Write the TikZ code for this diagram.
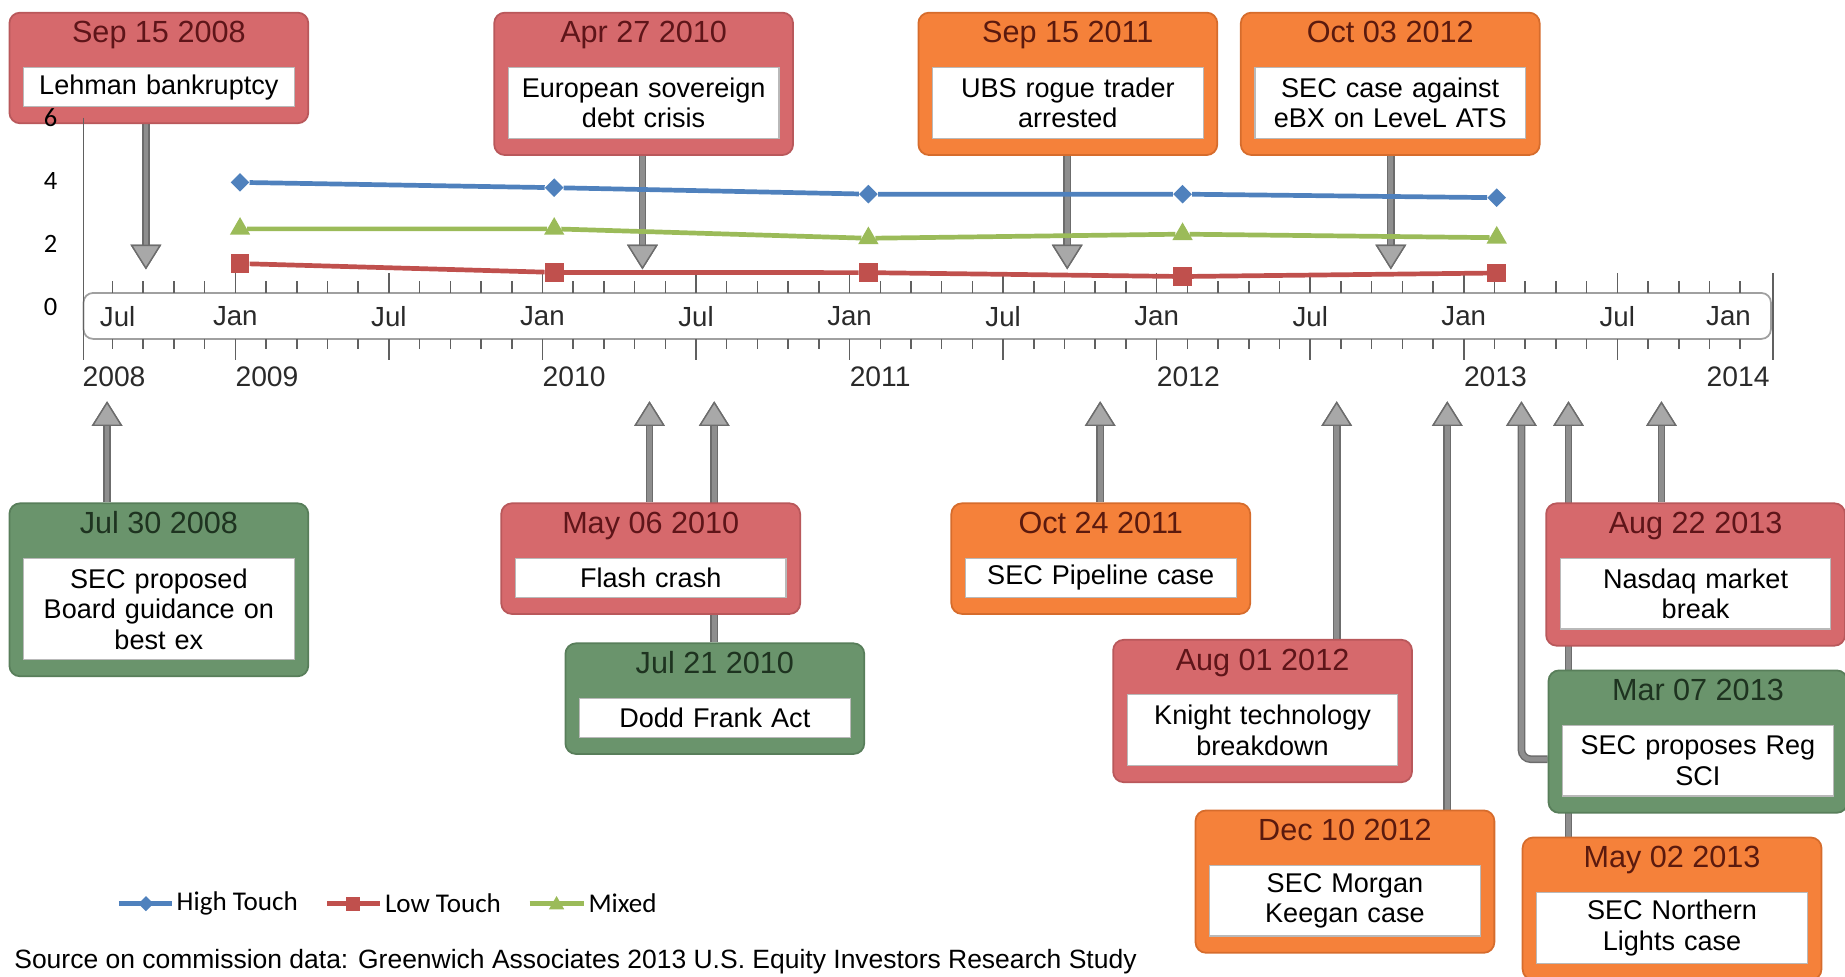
\documentclass[tikz,border=0pt]{standalone}
\usepackage{fontspec}
\setmainfont{Liberation Sans}
\newfontfamily\calibri{Carlito}
\usetikzlibrary{arrows.meta,shapes.geometric}
\definecolor{evred}{HTML}{D6696C}
\definecolor{evredline}{HTML}{B9585B}
\definecolor{evreddate}{HTML}{5E1519}
\definecolor{evorange}{HTML}{F5813A}
\definecolor{evorangeline}{HTML}{D66C2C}
\definecolor{evorangedate}{HTML}{5B1A0E}
\definecolor{evgreen}{HTML}{6A946C}
\definecolor{evgreenline}{HTML}{587E5A}
\definecolor{evgreendate}{HTML}{1E3320}
\definecolor{hiblue}{HTML}{4F81BD}
\definecolor{lored}{HTML}{C0504D}
\definecolor{mixgreen}{HTML}{9BBB59}
\definecolor{stemgray}{HTML}{8E8E8E}
\definecolor{stemdark}{HTML}{6C6C6C}
\definecolor{headgray}{HTML}{A8A8A8}
\definecolor{bandgray}{HTML}{A0A0A0}
\definecolor{labelgray}{HTML}{2A2A2A}
\pgfdeclarelayer{bg}
\pgfsetlayers{bg,main}
% name, colour, centre x, top y, height of the white box, date, text
\newcommand{\eventbox}[7]{%
  \node[evbox=#2, minimum height=#5pt+61pt, anchor=north] (#1) at (#3,#4) {};
  \node[evdate=#2, anchor=base] (#1date) at ([yshift=-26.5pt]#1.north) {#6};
  \node[evtext, minimum height=#5pt, anchor=north] (#1txt) at ([yshift=-47pt]#1.north) {#7};
}

\begin{document}
\begin{tikzpicture}[x=1pt,y=-1pt]
\tikzset{evbox/.style={draw=#1line, fill=#1, rounded corners=9pt, line width=1.5pt,
    minimum width=254pt, inner sep=0pt}}
\tikzset{evdate/.style={text=#1date, inner sep=0pt, font=\fontsize{26}{30}\selectfont}}
\tikzset{evtext/.style={draw=gray!55, fill=white, line width=1pt, inner sep=0pt,
    text width=230pt, align=center, font=\fontsize{23}{26}\selectfont}}
\tikzset{evarrow/.style={draw=stemgray, line width=4pt,
    preaction={draw=stemdark, line width=6.5pt},
    -{Triangle[width=26pt, length=21pt, line width=1.2pt, color=stemdark, fill=headgray]}}}
\tikzset{band/.style={draw=bandgray, line width=1.5pt, fill=white, rounded corners=8pt}}
\tikzset{tick/.style={draw=gray!75!black, line width=1.3pt}}
\tikzset{monthlabel/.style={text=labelgray, inner sep=0pt, font=\fontsize{23.5}{26}\selectfont}}
\tikzset{yearlabel/.style={text=labelgray, inner sep=0pt, font=\fontsize{24}{26}\selectfont}}
\tikzset{axislabel/.style={inner sep=0pt, font=\calibri\fontsize{22.5}{26}\selectfont}}
\tikzset{hiline/.style={draw=hiblue, line width=4pt}}
\tikzset{loline/.style={draw=lored, line width=4pt}}
\tikzset{mixline/.style={draw=mixgreen, line width=4pt}}
\tikzset{himark/.style={diamond, fill=hiblue, minimum size=16pt, inner sep=0pt}}
\tikzset{lomark/.style={rectangle, fill=lored, minimum size=16pt, inner sep=0pt}}
\tikzset{mixmark/.style={regular polygon, regular polygon sides=3, fill=mixgreen,
    minimum size=20pt, inner sep=0pt}}
\tikzset{legtext/.style={anchor=west, inner sep=0pt, font=\calibri\fontsize{23}{26}\selectfont}}
\clip (0,0) rectangle (1568,830);

\eventbox{lehman}{evred}{135}{10}{33}{Sep 15 2008}{Lehman bankruptcy}
\eventbox{eurodebt}{evred}{547}{10}{60}{Apr 27 2010}{European sovereign\\debt crisis}
\eventbox{ubs}{evorange}{907.5}{10}{60}{Sep 15 2011}{UBS rogue trader\\arrested}
\eventbox{ebx}{evorange}{1181.5}{10}{60}{Oct 03 2012}{SEC case against\\eBX on LeveL ATS}
\eventbox{bestex}{evgreen}{135}{427}{86}{Jul 30 2008}{SEC proposed\\Board guidance on\\best ex}
\eventbox{flash}{evred}{553}{427}{33}{May 06 2010}{Flash crash}
\eventbox{doddfrank}{evgreen}{607.5}{546}{33}{Jul 21 2010}{Dodd Frank Act}
\eventbox{pipeline}{evorange}{935.5}{427}{33}{Oct 24 2011}{SEC Pipeline case}
\eventbox{knight}{evred}{1073}{543}{60}{Aug 01 2012}{Knight technology\\breakdown}
\eventbox{morgan}{evorange}{1143}{688}{60}{Dec 10 2012}{SEC Morgan\\Keegan case}
\eventbox{nasdaq}{evred}{1441}{427}{60}{Aug 22 2013}{Nasdaq market\\break}
\eventbox{regsci}{evgreen}{1443}{569}{60}{Mar 07 2013}{SEC proposes Reg\\SCI}
\eventbox{northern}{evorange}{1421}{711}{60}{May 02 2013}{SEC Northern\\Lights case}

\coordinate (d1) at (124,229);
\coordinate (d2) at (546,229);
\coordinate (d3) at (907,229);
\coordinate (d4) at (1182,229);
\coordinate (u1) at (91,341);
\coordinate (u2) at (552,341);
\coordinate (u3) at (607,341);
\coordinate (u4) at (935,341);
\coordinate (u5) at (1136,341);
\coordinate (u6) at (1230,341);
\coordinate (u7) at (1293,341);
\coordinate (u8) at (1333,341);
\coordinate (u9) at (1412,341);
\begin{pgfonlayer}{bg}
\draw[evarrow] (lehman.south -| d1) -- (d1);
\draw[evarrow] (eurodebt.south -| d2) -- (d2);
\draw[evarrow] (ubs.south -| d3) -- (d3);
\draw[evarrow] (ebx.south -| d4) -- (d4);
\draw[evarrow] (bestex.north -| u1) -- (u1);
\draw[evarrow] (flash.north -| u2) -- (u2);
\draw[evarrow] (doddfrank.north -| u3) -- (u3);
\draw[evarrow] (pipeline.north -| u4) -- (u4);
\draw[evarrow] (knight.north -| u5) -- (u5);
\draw[evarrow] (morgan.north -| u6) -- (u6);
\draw[evarrow, rounded corners=8pt] ([yshift=-15pt]regsci.west) -| (u7);
\draw[evarrow] (northern.north -| u8) -- (u8);
\draw[evarrow] (nasdaq.north -| u9) -- (u9);
\end{pgfonlayer}

\draw[band] (71,249) rectangle (1505,288);
\foreach \k in {1,...,54}{
  \pgfmathtruncatemacro\r{mod(\k,5)}
  \ifnum\r=0 \def\up{232}\def\dn{306}\else \def\up{239}\def\dn{297}\fi
  \draw[tick] (69.5+26.1*\k,\up) -- (69.5+26.1*\k,249);
  \draw[tick] (69.5+26.1*\k,288) -- (69.5+26.1*\k,\dn);
}
\draw[tick] (71,100) -- (71,306);
\draw[tick] (1507,232) -- (1507,306);
\node[monthlabel] (m0) at (100,269) {Jul};
\foreach \k/\m [count=\i] in {5/Jan,10/Jul,15/Jan,20/Jul,25/Jan,30/Jul,35/Jan,40/Jul,45/Jan,50/Jul}
  \node[monthlabel] (m\i) at (69.5+26.1*\k,269) {\m};
\node[monthlabel] (m11) at (1469,269) {Jan};
\node[yearlabel, anchor=west] (y2008) at (70,320) {2008};
\foreach \yr [count=\i] in {2009,...,2013}
  \node[yearlabel, anchor=west] (y\yr) at (200+261*\i-261,320) {\yr};
\node[yearlabel, anchor=east] (y2014) at (1504,320) {2014};
\foreach \v/\yy in {0/261,2/207,4/154,6/100}
  \node[axislabel] (v\v) at (43,\yy) {\v};

\foreach \px/\py [count=\i] in {204/155,471/159.5,738/165,1005/165,1272/168}
  \node[himark] (hi\i) at (\px,\py) {};
\foreach \px/\py [count=\i] in {204/224,471/231.5,738/231.7,1005/235,1272/232}
  \node[lomark] (lo\i) at (\px,\py) {};
\foreach \px/\py [count=\i] in {204/194.5,471/194.5,738/202.5,1005/199,1272/202}
  \node[mixmark] (mix\i) at (\px,\py) {};
\draw[hiline] (hi1) -- (hi2) -- (hi3) -- (hi4) -- (hi5);
\draw[loline] (lo1) -- (lo2) -- (lo3) -- (lo4) -- (lo5);
\draw[mixline] (mix1) -- (mix2) -- (mix3) -- (mix4) -- (mix5);

\draw[hiline] (101,768) -- (146,768);
\node[himark, minimum size=13pt] (leghi) at (124,768) {};
\node[legtext] (leghitxt) at (150,768) {High Touch};
\draw[loline] (278,768) -- (323,768);
\node[lomark, minimum size=12pt] (leglo) at (300,768) {};
\node[legtext] (leglotxt) at (327,768) {Low Touch};
\draw[mixline] (450,768) -- (496,768);
\node[mixmark, minimum size=15pt] (legmix) at (473,769) {};
\node[legtext] (legmixtxt) at (500,768) {Mixed};

\node[anchor=west, inner sep=0pt, font=\fontsize{22.5}{26}\selectfont] (source) at (12,817)
  {Source on commission data: Greenwich Associates 2013 U.S. Equity Investors Research Study};
\end{tikzpicture}
\end{document}
